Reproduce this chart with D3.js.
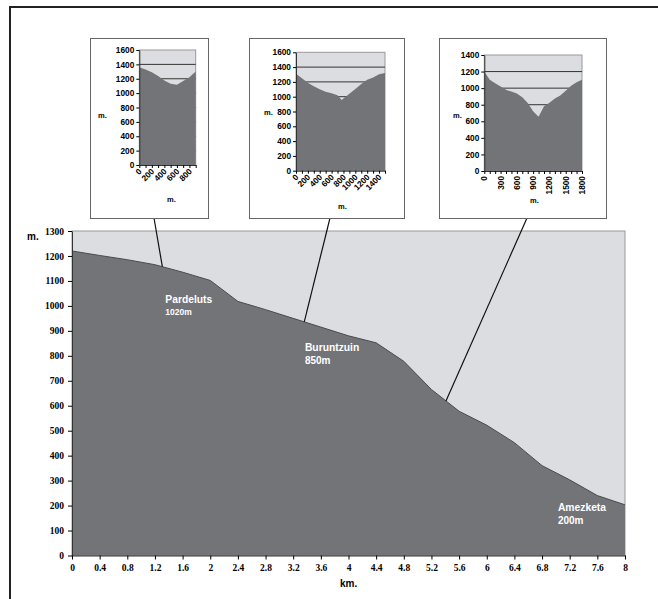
<!DOCTYPE html>
<html>
<head>
<meta charset="utf-8">
<script src="https://cdn.jsdelivr.net/npm/d3@7"></script>
<style>
  body { margin: 0; background: #fff; }
  .tick text { font-family: "Liberation Serif", serif; font-weight: bold; }
  .inset .tick text { font-family: "Liberation Sans", Arial, sans-serif; font-weight: bold; }
</style>
</head>
<body>
<div id="chart"></div>
<script>
// main profile: distance (km) and height (m)
const kmValues = [0, 0.4, 0.8, 1.2, 1.6, 2, 2.4, 2.8, 3.2, 3.6, 4, 4.4, 4.8, 5.2, 5.6, 6, 6.4, 6.8, 7.2, 7.6, 8]
const elevation = [1220, 1202, 1185, 1165, 1135, 1102, 1018, 985, 950, 915, 880, 852, 778, 665, 578, 522, 452, 360, 303, 240, 203]
const kmTicks = [0, 0.4, 0.8, 1.2, 1.6, 2, 2.4, 2.8, 3.2, 3.6, 4, 4.4, 4.8, 5.2, 5.6, 6, 6.4, 6.8, 7.2, 7.6, 8]
const mTicks = [0, 100, 200, 300, 400, 500, 600, 700, 800, 900, 1000, 1100, 1200, 1300]

const peakNames = ["Pardeluts", "Buruntzuin", "Amezketa"]
const peakHeights = ["1020m", "850m", "200m"]

// cross sections
const cross1Dist = [0, 100, 200, 300, 400, 500, 600, 700, 800, 900]
const cross1Elev = [1360, 1330, 1290, 1240, 1175, 1130, 1118, 1170, 1220, 1300]
const cross1Labels = [0, 200, 400, 600, 800]

const cross2Dist = [0, 100, 200, 300, 400, 500, 600, 700, 770, 800, 900, 1000, 1100, 1200, 1300, 1400, 1500]
const cross2Elev = [1310, 1250, 1190, 1140, 1100, 1068, 1045, 1020, 955, 975, 1040, 1105, 1170, 1230, 1260, 1305, 1320]
const cross2Labels = [0, 200, 400, 600, 800, 1000, 1200, 1400]

const cross3Dist = [0, 100, 200, 300, 400, 500, 600, 700, 800, 900, 1000, 1100, 1200, 1300, 1400, 1500, 1600, 1700, 1800]
const cross3Elev = [1200, 1100, 1060, 1020, 980, 958, 935, 890, 820, 720, 655, 780, 825, 875, 910, 970, 1030, 1070, 1100]
const cross3Labels = [0, 300, 600, 900, 1200, 1500, 1800]

const darkFill = "#737478"
const lightFill = "#dcdde0"

let svg = d3.select("#chart").append("svg")
  .attr("width", 658)
  .attr("height", 599)

// outer frame
svg.append("rect")
  .attr("x", 10).attr("y", 7)
  .attr("width", 700).attr("height", 700)
  .attr("fill", "none")
  .attr("stroke", "#222")
  .attr("stroke-width", 2)

// main chart
let x = d3.scaleLinear().domain([0, 8]).range([72, 625])
let y = d3.scaleLinear().domain([0, 1300]).range([555.5, 231])

svg.append("rect")
  .attr("x", x(0)).attr("y", y(1300))
  .attr("width", x(8) - x(0)).attr("height", y(0) - y(1300))
  .attr("fill", lightFill)
  .attr("stroke", "#999")

let area = d3.area()
  .x((d, i) => x(kmValues[i]))
  .y0(y(0))
  .y1(d => y(d))

svg.append("path")
  .datum(elevation)
  .attr("fill", darkFill)
  .attr("d", area)

svg.append("path")
  .datum(elevation)
  .attr("fill", "none")
  .attr("stroke", "#4a4b4e")
  .attr("d", d3.line().x((d, i) => x(kmValues[i])).y(d => y(d)))

svg.append("g")
  .attr("transform", `translate(${x(0)},0)`)
  .call(d3.axisLeft(y).tickValues(mTicks).tickFormat(d3.format("d")).tickSize(4).tickPadding(4).tickSizeOuter(0))
  .call(g => g.selectAll("text").attr("font-size", 9.5))
  .call(g => g.select(".domain").attr("stroke", "#333"))

svg.append("g")
  .attr("transform", `translate(0,${y(0)})`)
  .call(d3.axisBottom(x).tickValues(kmTicks).tickFormat(d3.format("")).tickSize(4).tickPadding(5).tickSizeOuter(0))
  .call(g => g.selectAll("text").attr("font-size", 9.5))
  .call(g => g.select(".domain").attr("stroke", "#333"))

svg.append("text")
  .attr("x", 27).attr("y", 239.5)
  .attr("font-family", "Liberation Sans, Arial, sans-serif")
  .attr("font-weight", "bold").attr("font-size", 10)
  .text("m.")

svg.append("text")
  .attr("x", 340).attr("y", 587)
  .attr("font-family", "Liberation Sans, Arial, sans-serif")
  .attr("font-weight", "bold").attr("font-size", 10)
  .text("km.")

// peak labels
let labelPos = [[1.35, 1010, 10.3, 8.5], [3.37, 820, 10.3, 10], [7.03, 180, 10.3, 10]]
peakNames.forEach((name, i) => {
  let p = labelPos[i]
  let t = svg.append("text")
    .attr("x", x(p[0])).attr("y", y(p[1]))
    .attr("fill", "#fff")
    .attr("font-family", "Liberation Sans, Arial, sans-serif")
    .attr("font-weight", "bold")
  t.append("tspan").attr("font-size", p[2]).text(name)
  t.append("tspan").attr("x", x(p[0])).attr("dy", p[3] + 3).attr("font-size", p[3]).text(peakHeights[i])
})

// cross section insets
let insets = [
  { box: [90, 38, 208, 218], plot: [139.3, 50, 195.7, 165], xMax: 900, yMax: 1600,
    dist: cross1Dist, elev: cross1Elev, labels: cross1Labels, rot: -45,
    yTitle: [98, 118], xTitle: [167, 202], km: 1.307, top: 154 },
  { box: [249, 38, 404, 218], plot: [296, 52.3, 385, 170.7], xMax: 1500, yMax: 1600,
    dist: cross2Dist, elev: cross2Elev, labels: cross2Labels, rot: -45,
    yTitle: [264, 115], xTitle: [338, 209], km: 3.36, top: 330 },
  { box: [439, 38, 606, 218], plot: [484.3, 55, 582, 171], xMax: 1800, yMax: 1400,
    dist: cross3Dist, elev: cross3Elev, labels: cross3Labels, rot: -90,
    yTitle: [453, 118], xTitle: [530, 203], km: 5.41, top: 527 }
]

let elevAt = d3.scaleLinear().domain(kmValues).range(elevation)

insets.forEach(c => {
  // connector line from inset to the profile
  svg.append("line")
    .attr("x1", c.top).attr("y1", c.box[3])
    .attr("x2", x(c.km)).attr("y2", y(elevAt(c.km)))
    .attr("stroke", "#111")
    .attr("stroke-width", 1.2)

  let g = svg.append("g").attr("class", "inset")

  g.append("rect")
    .attr("x", c.box[0] + 0.5).attr("y", c.box[1] + 0.5)
    .attr("width", c.box[2] - c.box[0]).attr("height", c.box[3] - c.box[1])
    .attr("fill", "#fff")
    .attr("stroke", "#666")

  let ix = d3.scaleLinear().domain([0, c.xMax]).range([c.plot[0], c.plot[2]])
  let iy = d3.scaleLinear().domain([0, c.yMax]).range([c.plot[3], c.plot[1]])

  g.append("rect")
    .attr("x", c.plot[0]).attr("y", c.plot[1])
    .attr("width", c.plot[2] - c.plot[0]).attr("height", c.plot[3] - c.plot[1])
    .attr("fill", lightFill)
    .attr("stroke", "#999")

  g.selectAll(".grid")
    .data(d3.range(200, c.yMax, 200))
    .join("line")
    .attr("x1", c.plot[0]).attr("x2", c.plot[2])
    .attr("y1", d => iy(d)).attr("y2", d => iy(d))
    .attr("stroke", "#333")

  g.append("path")
    .datum(c.elev)
    .attr("fill", darkFill)
    .attr("d", d3.area().x((d, i) => ix(c.dist[i])).y0(iy(0)).y1(d => iy(d)))

  g.append("g")
    .attr("transform", `translate(${c.plot[0]},0)`)
    .call(d3.axisLeft(iy).ticks(c.yMax / 200).tickFormat(d3.format("d")).tickSize(3).tickPadding(2).tickSizeOuter(0))
    .call(a => a.selectAll("text").attr("font-size", 8.3))
    .call(a => a.select(".domain").attr("stroke", "#333"))

  let xa = g.append("g")
    .attr("transform", `translate(0,${c.plot[3]})`)
    .call(d3.axisBottom(ix).tickValues(d3.range(0, c.xMax + 1, 100)).tickSize(3).tickSizeOuter(0).tickFormat(""))
    .call(a => a.select(".domain").attr("stroke", "#333"))

  xa.selectAll(".lab")
    .data(c.labels)
    .join("text")
    .attr("class", "lab")
    .attr("transform", d => c.rot == -90
      ? `translate(${ix(d) + 3},5) rotate(-90)`
      : `translate(${ix(d) + 3},7) rotate(-45)`)
    .attr("text-anchor", "end")
    .attr("font-family", "Liberation Sans, Arial, sans-serif")
    .attr("font-weight", "bold")
    .attr("font-size", 8.3)
    .attr("fill", "#000")
    .text(d => d)

  g.append("text")
    .attr("x", c.yTitle[0]).attr("y", c.yTitle[1])
    .attr("font-family", "Liberation Sans, Arial, sans-serif")
    .attr("font-weight", "bold").attr("font-size", 7.5)
    .text("m.")

  g.append("text")
    .attr("x", c.xTitle[0]).attr("y", c.xTitle[1])
    .attr("font-family", "Liberation Sans, Arial, sans-serif")
    .attr("font-weight", "bold").attr("font-size", 7.5)
    .text("m.")
})
</script>
</body>
</html>
